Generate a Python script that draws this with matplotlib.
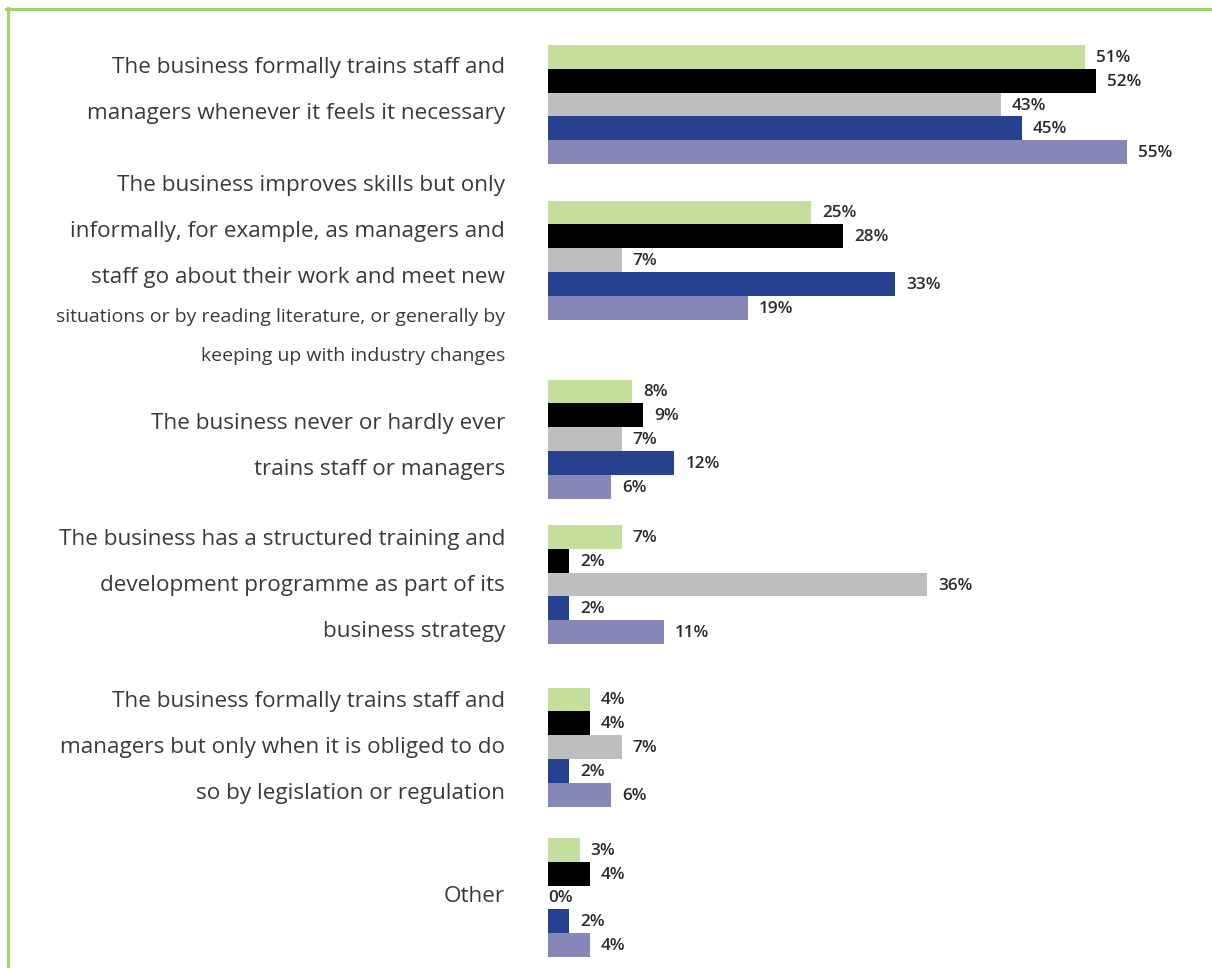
import matplotlib.pyplot as plt
from matplotlib.lines import Line2D

# survey answers, share of businesses per group (%)
categories = [
    ["The business formally trains staff and",
     "managers whenever it feels it necessary"],
    ["The business improves skills but only",
     "informally, for example, as managers and",
     "staff go about their work and meet new",
     "situations or by reading literature, or generally by",
     "keeping up with industry changes"],
    ["The business never or hardly ever",
     "trains staff or managers"],
    ["The business has a structured training and",
     "development programme as part of its",
     "business strategy"],
    ["The business formally trains staff and",
     "managers but only when it is obliged to do",
     "so by legislation or regulation"],
    ["Other"],
]
series_1 = [51, 25, 8, 7, 4, 3]
series_2 = [52, 28, 9, 2, 4, 4]
series_3 = [43, 7, 7, 36, 7, 0]
series_4 = [45, 33, 12, 2, 2, 2]
series_5 = [55, 19, 6, 11, 6, 4]

series = [series_1, series_2, series_3, series_4, series_5]
colors = ["#c4df9b", "#000000", "#bdbec0", "#25418f", "#8788b9"]

# layout (pixels, y measured from top)
W, H = 1212, 968
x0 = 548          # where bars start
px_per_pct = 10.53
group_y = [104.5, 260, 439, 584.5, 747, 897.5]
bar_h = 23.8
label_top = [68, 186, 424, 540, 702, 896]
label_small = [0, 2, 0, 0, 0, 0]   # trailing lines set in smaller type

plt.rcParams['font.family'] = ['Open Sans', 'DejaVu Sans']

fig = plt.figure(figsize=(W / 100, H / 100), dpi=100)
ax = fig.add_axes([0, 0, 1, 1])
ax.set_xlim(-x0 / px_per_pct, (W - x0) / px_per_pct)
ax.set_ylim(H, 0)
ax.axis('off')

for j, (vals, col) in enumerate(zip(series, colors)):
    ys = [g + (j - 2) * bar_h for g in group_y]
    ax.barh(ys, vals, height=bar_h, color=col, linewidth=0)
    for y, v in zip(ys, vals):
        off = 11 / px_per_pct if v > 0 else 0
        ax.text(v + off, y + 1, f"{v}%", ha='left', va='center',
                fontsize=12.3, fontweight='semibold', color='#2b2b2b')

# category labels, right aligned left of the bars
lab_x = (505 - x0) / px_per_pct
for lines, top, n_small in zip(categories, label_top, label_small):
    y = top
    for i, line in enumerate(lines):
        small = i >= len(lines) - n_small
        if i > 0:
            y += 39 if small else 46
        ax.text(lab_x, y, line, ha='right', va='center',
                fontsize=14.0 if small else 16.2, color='#3a3a3a')

# green frame on top and left
fig.add_artist(Line2D([6 / W, 1], [1 - 9 / H, 1 - 9 / H],
                      transform=fig.transFigure, color='#a3d26c', lw=2.2))
fig.add_artist(Line2D([7.5 / W, 7.5 / W], [0, 1 - 8 / H],
                      transform=fig.transFigure, color='#a3d26c', lw=2.2))

fig.savefig("out.png", dpi=100)
